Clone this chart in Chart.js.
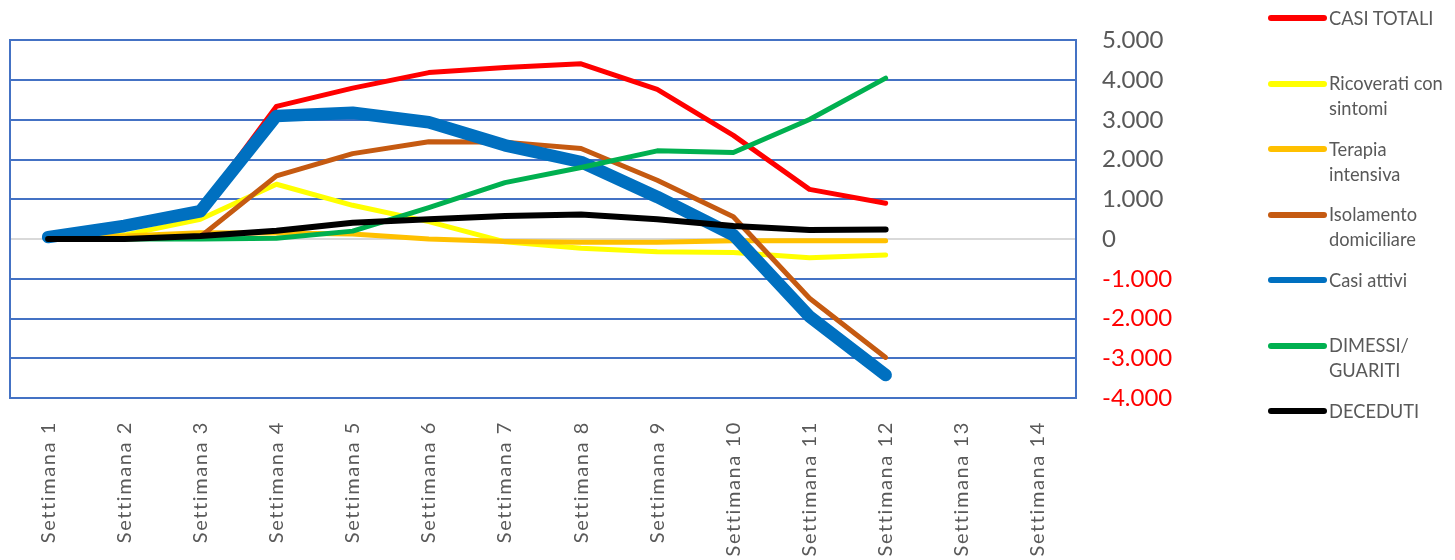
<!DOCTYPE html>
<html>
<head>
<meta charset="utf-8">
<script src="https://cdn.jsdelivr.net/npm/chart.js@4.4.1/dist/chart.umd.min.js"></script>
<style>
  html, body { margin: 0; padding: 0; background: #ffffff; }
  #wrap { position: relative; width: 1455px; height: 560px; overflow: hidden; }
  #c { position: absolute; left: 0; top: 0; }
  .lg-line { position: absolute; width: 59px; height: 6px; border-radius: 3px; }
  .lg-text { position: absolute; width: 126px; font-family: Lato, "Noto Sans", sans-serif; font-size: 18.3px; line-height: 25px; color: #595959; }
</style>
</head>
<body>
<div id="wrap">
  <canvas id="c" width="1455" height="560"></canvas>
  <div id="legend"></div>
</div>
<script>
// ---- Data ----
const categories = ["Settimana 1","Settimana 2","Settimana 3","Settimana 4","Settimana 5","Settimana 6","Settimana 7","Settimana 8","Settimana 9","Settimana 10","Settimana 11","Settimana 12","Settimana 13","Settimana 14"];
const seriesNames = ["CASI TOTALI","Ricoverati con sintomi","Terapia intensiva","Isolamento domiciliare","Casi attivi","DIMESSI/ GUARITI","DECEDUTI"];
const casiTotali  = [50, 330, 760, 3340, 3800, 4190, 4320, 4410, 3770, 2610, 1250, 900];
const ricoverati  = [0, 100, 500, 1380, 850, 440, -70, -230, -320, -340, -470, -400];
const terapia     = [0, 80, 160, 150, 130, 0, -60, -80, -80, -40, -40, -40];
const isolamento  = [0, 0, 60, 1590, 2150, 2450, 2440, 2280, 1480, 560, -1490, -2980];
const casiAttivi  = [50, 330, 700, 3100, 3180, 2940, 2360, 1940, 1060, 100, -1950, -3420];
const dimessi     = [0, 0, 0, 20, 200, 790, 1420, 1800, 2220, 2180, 3010, 4050];
const deceduti    = [0, 0, 75, 210, 410, 500, 580, 620, 500, 330, 230, 240];
const yTicks = [-4000, -3000, -2000, -1000, 0, 1000, 2000, 3000, 4000, 5000];

// ---- Styles ----
const seriesValues = [casiTotali, ricoverati, terapia, isolamento, casiAttivi, dimessi, deceduti];
const seriesColors = ["#FF0000", "#FFFF00", "#FFC000", "#C55A11", "#0070C0", "#00B050", "#000000"];
const seriesWidths = [5, 5, 5, 5, 12.5, 5, 6];
const gridBlue = "#4472C4";

const datasets = seriesNames.map((name, i) => ({
  label: name,
  data: seriesValues[i],
  borderColor: seriesColors[i],
  backgroundColor: seriesColors[i],
  borderWidth: seriesWidths[i],
  borderCapStyle: "round",
  borderJoinStyle: "round",
  pointRadius: 0,
  pointHoverRadius: 0,
  tension: 0,
  fill: false,
  yAxisID: "y",
  order: seriesNames.length - 1 - i
}));

const fmt = v => {
  const s = Math.abs(v).toString().replace(/\B(?=(\d{3})+(?!\d))/g, ".");
  return (v < 0 ? "-" : "") + s;
};

const xLetterSpacing = {
  id: "xLetterSpacing",
  beforeDraw(chart) {
    const s = chart.scales.x;
    if (s && !s.__wrapped) {
      const orig = s.drawLabels.bind(s);
      s.drawLabels = function (area) {
        const ctx = this.ctx;
        ctx.save();
        try { ctx.letterSpacing = "1.6px"; } catch (e) {}
        orig(area);
        ctx.restore();
      };
      s.__wrapped = true;
    }
  }
};

new Chart(document.getElementById("c"), {
  type: "line",
  data: { labels: categories, datasets },
  plugins: [xLetterSpacing],
  options: {
    responsive: false,
    animation: false,
    devicePixelRatio: 1,
    layout: { padding: { top: 40, left: 0, right: 0, bottom: 0 } },
    plugins: { legend: { display: false }, tooltip: { enabled: false } },
    scales: {
      x: {
        type: "category",
        offset: true,
        grid: { display: false },
        border: { display: false },
        ticks: {
          autoSkip: false,
          maxRotation: 90,
          minRotation: 90,
          padding: 15,
          color: "#595959",
          font: { family: "Lato", size: 20 }
        },
        afterFit(scale) { scale.height = 162; }
      },
      yL: {
        position: "left",
        display: true,
        grid: { display: false, drawTicks: false },
        ticks: { display: false },
        border: { display: true, color: gridBlue, width: 2 },
        afterFit(scale) { scale.width = 10; }
      },
      y: {
        position: "right",
        min: -4000,
        max: 5000,
        afterBuildTicks(scale) { scale.ticks = yTicks.map(v => ({ value: v })); },
        grid: {
          drawTicks: false,
          lineWidth: 2,
          color: ctx => (ctx.tick && ctx.tick.value === 0) ? "#D9D9D9" : gridBlue
        },
        border: { display: true, color: gridBlue, width: 2 },
        ticks: {
          padding: 26,
          crossAlign: "near",
          color: ctx => (ctx.tick && ctx.tick.value < 0) ? "#FF0000" : "#595959",
          font: { family: "Lato", size: 24 },
          callback: v => fmt(v)
        },
        afterFit(scale) { scale.width = 379; }
      }
    }
  }
});

// ---- HTML legend built from the series ----
const legend = document.getElementById("legend");
seriesNames.forEach((name, i) => {
  const cy = 18 + i * 65.5;
  const line = document.createElement("div");
  line.className = "lg-line";
  line.style.left = "1268px";
  line.style.top = (cy - 3) + "px";
  line.style.background = seriesColors[i];
  legend.appendChild(line);
  const t = document.createElement("div");
  t.className = "lg-text";
  t.style.left = "1329px";
  t.style.top = (cy - 12.5) + "px";
  t.textContent = name;
  legend.appendChild(t);
});
</script>
</body>
</html>
